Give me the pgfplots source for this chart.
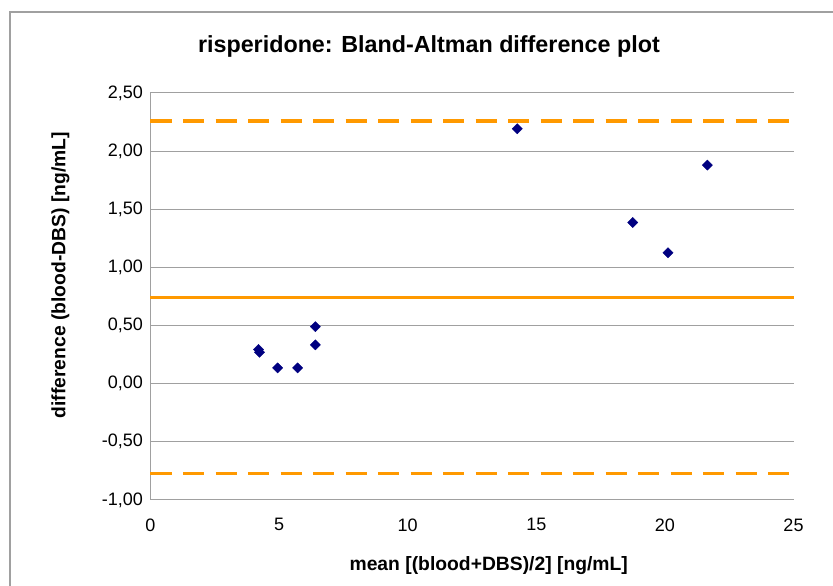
\documentclass[border=0pt]{standalone}
\usepackage{fontspec}
\setmainfont{Liberation Sans}
\usepackage{pgfplots}
\pgfplotsset{compat=1.18}

\definecolor{limorange}{RGB}{255,153,0}
\definecolor{ptnavy}{RGB}{0,0,128}
\definecolor{gridgray}{RGB}{160,160,160}

\begin{document}
\begin{tikzpicture}
  \useasboundingbox (0pt,0pt) rectangle (833pt,586pt);
  \begin{scope}
    \clip (0pt,0pt) rectangle (833pt,586pt);
    \draw[gridgray, line width=1.2pt] (10pt,574pt) rectangle (860pt,-20pt);
  \end{scope}
  \begin{axis}[
      at={(150.5pt,86pt)}, anchor=south west,
      scale only axis,
      width=643pt, height=407pt,
      xmin=0, xmax=25,
      ymin=-1, ymax=2.5,
      xtick={0,5,10,15,20,25},
      ytick={-1,-0.5,0,0.5,1,1.5,2,2.5},
      axis x line*=bottom,
      axis y line*=left,
      axis line style={-, gridgray, line width=1pt},
      major tick length=0pt,
      ymajorgrids=true,
      grid style={gridgray, line width=1pt},
      /pgf/number format/assume math mode=true,
      ticklabel style={font=\fontsize{18}{20}\selectfont},
      yticklabel style={xshift=-4pt, /pgf/number format/fixed, /pgf/number format/fixed zerofill,
        /pgf/number format/precision=2, /pgf/number format/use comma},
      xticklabel style={yshift=-15pt},
      title={risperidone: Bland-Altman difference plot},
      title style={font=\fontsize{23.3}{26}\selectfont\bfseries, at={(rel axis cs:0.433,1.10)}, anchor=center},
      xlabel={mean [(blood+DBS)/2] [ng/mL]},
      ylabel={difference (blood-DBS) [ng/mL]},
      xlabel style={font=\fontsize{19.3}{22}\selectfont\bfseries, at={(rel axis cs:0.526,-0.16)}, anchor=center},
      ylabel style={font=\fontsize{19.3}{22}\selectfont\bfseries, at={(rel axis cs:-0.14,0.552)}, anchor=center},
      clip=false
    ]
    % limits of agreement and mean difference
    \addplot[limorange, line width=3.5pt, dash pattern=on 21pt off 11.5pt] coordinates {(0,2.26) (25,2.26)};
    \addplot[limorange, line width=2.7pt] coordinates {(0,0.74) (25,0.74)};
    \addplot[limorange, line width=3.5pt, dash pattern=on 21pt off 11.5pt] coordinates {(0,-0.77) (25,-0.77)};
    % differences
    \addplot[only marks, mark=square*, mark size=3.6pt, mark options={rotate=45, draw=ptnavy, fill=ptnavy}] coordinates {
      (4.20,0.295) (4.24,0.27) (4.94,0.136) (5.72,0.136)
      (6.41,0.49) (6.41,0.334) (14.26,2.193)
      (18.75,1.387) (20.12,1.126) (21.65,1.88)
    };
  \end{axis}
\end{tikzpicture}
\end{document}
